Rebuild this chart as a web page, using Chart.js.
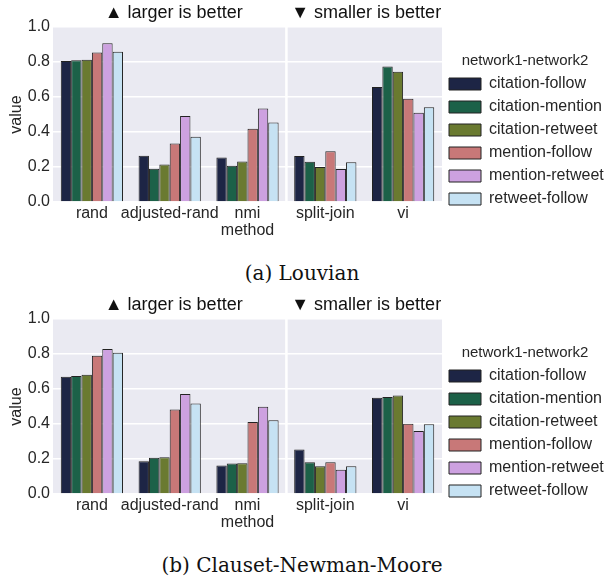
<!DOCTYPE html>
<html>
<head>
<meta charset="utf-8">
<script src="https://cdn.jsdelivr.net/npm/chart.js@4.4.1/dist/chart.umd.min.js"></script>
<style>
  body { margin: 0; background: #fff; width: 608px; height: 579px; position: relative; overflow: hidden; }
  .box { position: absolute; left: 0; width: 608px; height: 240px; }
  .cap { position: absolute; left: 0; width: 604px; text-align: center; font-family: "DejaVu Serif", serif; font-size: 20px; color: #111; }
</style>
</head>
<body>
<div class="box" style="top:0px"><canvas id="louvian"></canvas></div>
<div class="cap" style="top:261px">(a) Louvian</div>
<div class="box" style="top:292px"><canvas id="cnm"></canvas></div>
<div class="cap" style="top:553px">(b) Clauset-Newman-Moore</div>
<script>
const methods = ['rand', 'adjusted-rand', 'nmi', 'split-join', 'vi'];
const pairs = ['citation-follow', 'citation-mention', 'citation-retweet', 'mention-follow', 'mention-retweet', 'retweet-follow'];
const colors = ['#1d2545', '#1c6148', '#6a7a30', '#c87878', '#cda1e0', '#c6e2f3'];
const yTicks = [0.0, 0.2, 0.4, 0.6, 0.8, 1.0];

// Louvian, one array per network pair (order of methods)
const louvCitFollow   = [0.806, 0.265, 0.255, 0.263, 0.657];
const louvCitMention  = [0.810, 0.190, 0.207, 0.230, 0.775];
const louvCitRetweet  = [0.813, 0.215, 0.232, 0.200, 0.745];
const louvMenFollow   = [0.855, 0.335, 0.419, 0.290, 0.590];
const louvMenRetweet  = [0.907, 0.491, 0.535, 0.189, 0.510];
const louvRetFollow   = [0.859, 0.373, 0.455, 0.227, 0.541];

// Clauset-Newman-Moore
const cnmCitFollow  = [0.670, 0.187, 0.163, 0.255, 0.550];
const cnmCitMention = [0.674, 0.207, 0.174, 0.182, 0.554];
const cnmCitRetweet = [0.682, 0.210, 0.176, 0.159, 0.563];
const cnmMenFollow  = [0.790, 0.483, 0.412, 0.182, 0.402];
const cnmMenRetweet = [0.828, 0.572, 0.498, 0.138, 0.360];
const cnmRetFollow  = [0.807, 0.517, 0.421, 0.159, 0.398];

const louvSeries = [louvCitFollow, louvCitMention, louvCitRetweet, louvMenFollow, louvMenRetweet, louvRetFollow];
const cnmSeries = [cnmCitFollow, cnmCitMention, cnmCitRetweet, cnmMenFollow, cnmMenRetweet, cnmRetFollow];

const txt = '#262626';

// grey panel behind the plot, like seaborn darkgrid
const panelBg = {
  id: 'panelBg',
  beforeDraw(chart) {
    const a = chart.chartArea, ctx = chart.ctx;
    ctx.save();
    ctx.fillStyle = '#eaeaf2';
    ctx.fillRect(a.left, a.top, a.right - a.left, a.bottom - a.top);
    ctx.restore();
  },
  beforeDatasetsDraw(chart) {
    // white divider between the two metric groups
    const a = chart.chartArea, ctx = chart.ctx, x = chart.scales.x;
    const xm = (x.getPixelForValue(2) + x.getPixelForValue(3)) / 2;
    ctx.save();
    ctx.strokeStyle = '#ffffff';
    ctx.lineWidth = 2.5;
    ctx.beginPath();
    ctx.moveTo(xm, a.top);
    ctx.lineTo(xm, a.bottom);
    ctx.stroke();
    ctx.restore();
  },
  afterDraw(chart) {
    const ctx = chart.ctx, x = chart.scales.x;
    const c1 = (x.getPixelForValue(0) + x.getPixelForValue(2)) / 2;
    const c2 = (x.getPixelForValue(3) + x.getPixelForValue(4)) / 2;
    ctx.save();
    ctx.fillStyle = '#111';
    ctx.font = '18px "Liberation Sans", sans-serif';
    ctx.textAlign = 'center';
    ctx.textBaseline = 'middle';
    ctx.fillText('\u25B2 larger is better', c1 + 4, 13);
    ctx.fillText('\u25BC smaller is better', c2 + 2, 13);
    ctx.restore();
  }
};

const legendWidth = {
  id: 'legendWidth',
  beforeInit(chart) {
    const orig = chart.legend.fit;
    chart.legend.fit = function () {
      orig.call(this);
      this.width = 166;
    };
  }
};

function makeChart(id, series) {
  const ctx = document.getElementById(id).getContext('2d');
  return new Chart(ctx, {
    type: 'bar',
    data: {
      labels: methods,
      datasets: pairs.map((p, i) => ({
        label: p,
        data: series[i],
        backgroundColor: colors[i],
        borderColor: '#222',
        borderWidth: 1,
        categoryPercentage: 0.8,
        barPercentage: 1.0
      }))
    },
    options: {
      responsive: true,
      maintainAspectRatio: false,
      animation: false,
      layout: { padding: { top: 27, left: 0, right: 0, bottom: 0 } },
      plugins: {
        tooltip: { enabled: false },
        legend: {
          display: true,
          position: 'right',
          align: 'center',
          title: {
            display: true,
            text: 'network1-network2',
            color: txt,
            font: { family: 'Liberation Sans', size: 15 },
            padding: { top: 0, bottom: -2 }
          },
          labels: {
            boxWidth: 32,
            boxHeight: 12,
            padding: 7,
            color: txt,
            font: { family: 'Liberation Sans', size: 16 }
          }
        }
      },
      scales: {
        x: {
          grid: { display: false, drawTicks: false },
          border: { display: false },
          ticks: { color: txt, font: { family: 'Liberation Sans', size: 16 }, padding: 2, maxRotation: 0, autoSkip: false },
          title: { display: true, text: 'method', color: txt, font: { family: 'Liberation Sans', size: 16 }, padding: { top: 0, bottom: 0 } },
          afterFit(s) { s.height = 38; }
        },
        y: {
          min: 0,
          max: 1,
          afterBuildTicks(s) { s.ticks = yTicks.map(v => ({ value: v })); },
          grid: { color: '#ffffff', lineWidth: 1.5, drawTicks: false },
          border: { display: false },
          ticks: { color: txt, font: { family: 'Liberation Sans', size: 16 }, padding: 3, callback: v => v.toFixed(1) },
          title: { display: true, text: 'value', color: txt, font: { family: 'Liberation Sans', size: 16 }, padding: { top: 7, bottom: 0 } },
          afterFit(s) { s.width = 53; }
        }
      }
    },
    plugins: [panelBg, legendWidth]
  });
}

makeChart('louvian', louvSeries);
makeChart('cnm', cnmSeries);
</script>
</body>
</html>
